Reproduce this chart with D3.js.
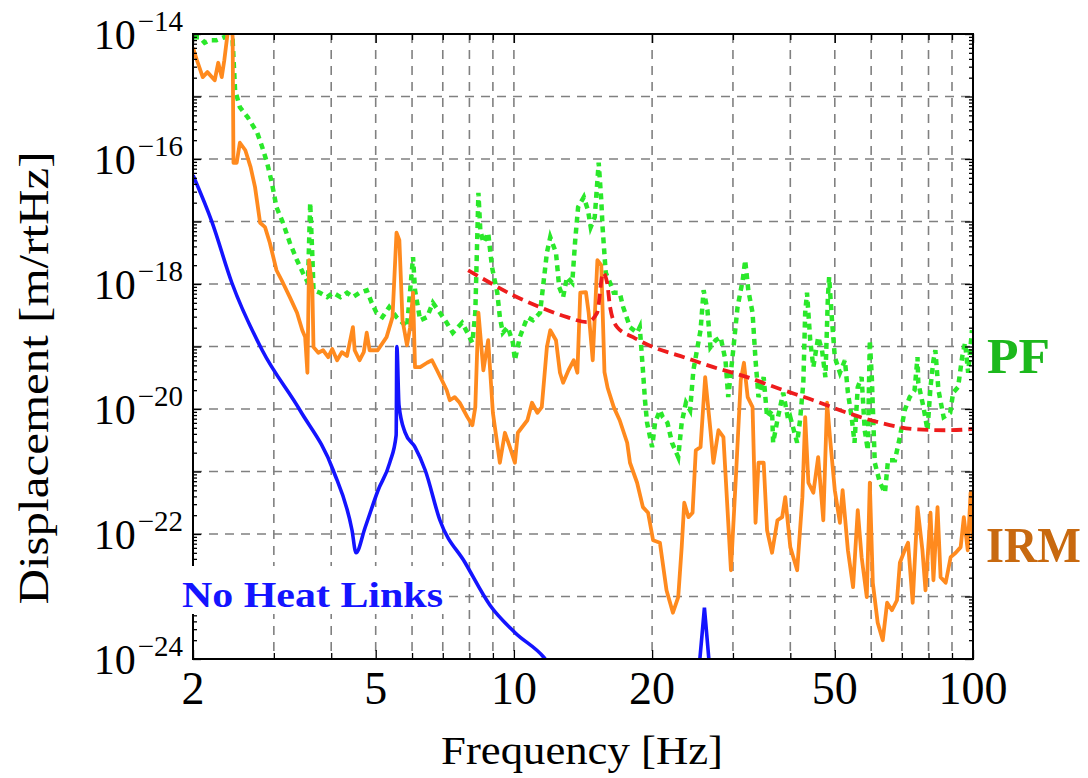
<!DOCTYPE html>
<html><head><meta charset="utf-8">
<script src="https://cdn.jsdelivr.net/npm/d3@7"></script>
<style>body{margin:0;background:#fff;} svg{display:block;}</style>
</head><body>
<svg id="c" width="1088" height="778"></svg>
<script>
// ---------- DATA (frequency in Hz, displacement as log10 of m/rtHz) ----------
const irmFreq = [
 2.00,2.04,2.10,2.15,2.23,2.27,2.31,2.34,2.38,2.42,
 2.44,2.45,2.49,2.53,2.60,2.67,2.73,2.80,2.87,2.94,
 3.04,3.12,3.25,3.37,3.46,3.51,3.55,3.58,3.64,3.66,
 3.75,3.84,3.94,4.02,4.12,4.22,4.33,4.46,4.50,4.61,
 4.71,4.78,4.85,5.05,5.28,5.44,5.55,5.63,5.72,5.85,
 5.94,6.03,6.09,6.25,6.47,6.63,6.80,6.97,7.14,7.25,
 7.43,7.62,7.92,8.12,8.24,8.37,8.58,8.79,9.00,9.32,
 9.56,9.80,10.05,10.2,10.7,10.95,11.25,11.5,11.8,12.0,
 12.35,12.6,12.8,13.15,13.5,13.75,13.95,14.35,14.55,14.85,
 15.2,15.5,15.75,16.0,16.5,17.0,17.65,17.9,18.55,19.1,
 19.6,20.1,20.8,21.5,22.2,22.8,23.2,23.5,24.0,24.5,
 24.9,25.5,26.1,26.8,27.2,27.9,28.6,29.7,30.5,31.2,
 31.7,32.3,33.1,33.6,34.1,35.0,35.6,36.5,37.5,38.4,
 39.0,40.0,41.4,42.5,43.1,43.8,44.9,46.0,47.2,48.1,
 48.8,50.0,51.3,52.0,53.4,54.8,56.1,57.2,58.7,59.6,
 60.5,62.0,63.6,65.0,66.6,68.3,69.3,71.0,72.2,73.9,
 75.7,77.6,78.8,80.8,82.0,83.7,85.0,87.2,89.4,91.7,
 94.0,95.5,97.4,98.8,100];
const irmLog = [
 -14.22,-14.42,-14.69,-14.61,-14.74,-14.46,-14.69,-14.42,-13.98,-13.78,
 -14.05,-16.06,-16.06,-15.74,-15.86,-16.13,-16.45,-17.02,-17.09,-17.34,
 -17.78,-17.94,-18.21,-18.46,-18.74,-18.85,-19.42,-17.62,-18.10,-19.01,
 -19.10,-19.06,-19.17,-19.04,-19.22,-19.09,-19.15,-18.69,-19.06,-19.22,
 -19.09,-18.78,-19.06,-19.06,-18.85,-18.53,-17.18,-17.30,-18.58,-18.98,
 -18.70,-18.14,-19.33,-19.33,-19.26,-19.22,-19.38,-19.54,-19.70,-19.86,
 -19.81,-19.90,-20.13,-20.26,-19.97,-18.46,-19.38,-18.90,-20.06,-20.86,
 -20.38,-20.61,-20.86,-20.38,-20.18,-19.90,-20.06,-19.97,-19.01,-18.74,
 -18.90,-19.42,-19.58,-19.38,-19.22,-19.42,-18.14,-18.13,-18.46,-19.22,
 -17.62,-17.70,-19.41,-19.66,-19.97,-20.18,-20.54,-20.86,-21.18,-21.57,
 -21.66,-22.10,-22.14,-22.90,-23.26,-23.01,-22.21,-21.50,-21.73,-21.66,
 -20.66,-20.61,-19.49,-20.34,-20.86,-20.34,-20.45,-22.58,-20.98,-19.54,
 -19.26,-19.81,-19.97,-21.82,-20.86,-20.86,-21.94,-22.30,-21.78,-21.73,
 -21.41,-22.21,-22.58,-21.41,-20.13,-21.18,-21.34,-20.77,-21.78,-19.90,
 -20.45,-21.30,-21.82,-21.30,-22.26,-22.85,-21.62,-22.37,-23.01,-21.18,
 -22.78,-23.42,-23.70,-23.10,-23.22,-23.06,-22.46,-22.26,-22.14,-23.10,
 -21.57,-22.26,-22.90,-21.66,-22.74,-21.57,-22.69,-22.78,-22.37,-22.30,
 -22.21,-21.73,-22.26,-21.34,-22.10];

const pfFreq = [
 2.00,2.07,2.12,2.17,2.25,2.34,2.44,2.47,2.53,2.63,
 2.76,2.83,2.90,2.97,3.04,3.14,3.25,3.37,3.47,3.56,
 3.60,3.64,3.66,3.78,3.92,4.04,4.19,4.33,4.46,4.61,
 4.78,4.90,5.02,5.17,5.35,5.55,5.72,5.85,6.03,6.09,
 6.25,6.47,6.66,6.90,7.14,7.36,7.71,7.92,8.12,8.24,
 8.37,8.45,8.58,8.79,8.96,9.20,9.32,9.46,9.70,9.95,
 10.05,10.3,10.7,11.0,11.4,11.6,11.8,12.0,12.35,12.55,
 12.8,13.05,13.4,13.6,13.8,14.2,14.5,14.7,15.0,15.3,
 15.5,15.6,15.85,16.2,16.5,17.0,17.3,17.9,18.55,18.8,
 19.1,19.3,19.5,20.0,20.3,20.8,21.1,21.6,22.1,22.8,
 23.2,23.7,24.2,24.6,25.5,25.9,26.4,26.8,27.5,28.2,
 28.9,29.3,30.0,30.7,31.5,31.9,32.4,33.1,33.6,34.1,
 35.0,35.6,36.5,36.7,37.6,38.6,39.6,40.0,41.4,42.0,
 42.7,43.1,43.5,44.2,44.9,46.0,46.9,47.7,48.3,48.6,
 49.3,50.0,51.3,52.6,53.4,54.4,55.2,56.1,57.2,58.1,
 59.0,59.6,60.2,61.1,62.7,64.3,65.3,67.6,69.3,71.0,
 72.8,74.6,75.7,76.0,78.0,79.6,80.8,82.0,82.8,84.1,
 86.3,89.2,90.5,92.8,94.7,96.1,97.6,99.5];
const pfLog = [
 -14.05,-14.05,-14.14,-14.10,-14.10,-14.05,-14.10,-14.90,-15.17,-15.33,
 -15.58,-15.81,-16.06,-16.38,-16.77,-17.02,-17.34,-17.62,-17.82,-17.98,
 -16.70,-17.57,-18.10,-18.14,-18.21,-18.14,-18.21,-18.14,-18.21,-18.14,
 -18.10,-18.30,-18.46,-18.53,-18.37,-18.53,-18.62,-18.69,-17.57,-18.10,
 -18.58,-18.53,-18.30,-18.46,-18.62,-18.78,-18.62,-18.78,-18.94,-18.46,
 -16.54,-17.14,-17.34,-17.18,-17.73,-18.14,-18.53,-18.78,-18.69,-18.94,
 -19.22,-18.85,-18.53,-18.58,-18.46,-17.98,-17.50,-17.25,-17.50,-18.05,
 -18.21,-17.89,-17.98,-17.30,-16.77,-16.61,-16.82,-17.09,-16.93,-16.06,
 -16.66,-17.09,-17.82,-17.98,-18.14,-18.14,-18.37,-18.69,-18.78,-18.69,
 -19.38,-19.86,-20.22,-20.61,-20.22,-20.02,-20.13,-20.22,-20.54,-20.77,
 -20.22,-19.90,-20.02,-19.38,-18.74,-18.10,-18.42,-19.01,-18.90,-18.85,
 -19.22,-19.81,-19.10,-18.37,-17.94,-17.62,-18.10,-18.46,-19.22,-19.81,
 -19.49,-20.13,-20.02,-20.54,-20.13,-19.74,-20.18,-20.13,-20.54,-20.18,
 -19.58,-18.46,-18.14,-18.90,-19.33,-18.85,-19.06,-19.49,-18.21,-17.89,
 -18.58,-19.17,-19.42,-19.22,-19.74,-20.13,-20.54,-19.65,-19.49,-20.34,
 -20.66,-18.90,-19.49,-20.86,-21.18,-21.34,-20.82,-20.82,-20.45,-20.02,
 -19.81,-19.70,-19.17,-19.58,-19.97,-20.34,-19.65,-19.22,-19.06,-19.70,
 -20.13,-20.06,-19.74,-19.65,-19.17,-18.94,-19.42,-18.74];

const limitFreq = [7.95,8.87,9.96,11.40,13.06,14.44,15.18,15.64,15.96,16.20,16.78,18.18,20.1,23.0,27.2,32.2,38.0,44.9,53.2,62.8,74.1,87.9,100];
const limitLog  = [-17.78,-17.98,-18.18,-18.37,-18.53,-18.61,-18.46,-17.82,-17.98,-18.37,-18.69,-18.85,-19.01,-19.15,-19.33,-19.49,-19.68,-19.86,-20.06,-20.22,-20.32,-20.34,-20.32];

const noHLFreq = [2.00,2.20,2.43,2.83,3.42,4.04,4.44,4.53,4.74,5.06,5.37,5.54,5.56,5.62,5.79,6.09,6.41,6.90,7.83,8.87,10.06,11.64,12.6];
const noHLLog  = [-16.26,-17.01,-17.98,-19.06,-20.02,-20.98,-21.94,-22.30,-21.90,-21.30,-20.85,-20.42,-19.00,-19.94,-20.37,-20.61,-20.98,-21.78,-22.46,-23.14,-23.58,-23.98,-24.34];
const noHLSpikeFreq = [25.2,25.7,26.0,26.3,26.8];
const noHLSpikeLog  = [-24.3,-23.6,-23.18,-23.6,-24.3];

const xTickLabels = [2,5,10,20,50,100];
const xGridValues = [3,4,5,6,7,8,9,10,20,30,40,50,60,70,80,90];
const yTickExponents = [-14,-16,-18,-20,-22,-24];
const yGridExponents = [-15,-16,-17,-18,-19,-20,-21,-22,-23];

// ---------- DRAWING ----------
const svg = d3.select("#c");
const X0 = 193, X1 = 973, Y0 = 34, Y1 = 659;
const x = d3.scaleLog().domain([2,100]).range([X0,X1]);
const y = d3.scaleLog().domain([1e-24,1e-14]).range([Y1,Y0]);
const serif = "'Liberation Serif','Times New Roman',serif";

svg.append("defs").append("clipPath").attr("id","clip")
  .append("rect").attr("x",X0).attr("y",Y0).attr("width",X1-X0).attr("height",Y1-Y0);

// grid
const grid = svg.append("g").attr("stroke","#808080").attr("stroke-width",1.6).attr("stroke-dasharray","9,7");
grid.selectAll("line.v").data(xGridValues).join("line").attr("class","v")
  .attr("x1",d=>x(d)).attr("x2",d=>x(d)).attr("y1",Y0).attr("y2",Y1);
grid.selectAll("line.h").data(yGridExponents).join("line").attr("class","h")
  .attr("x1",X0).attr("x2",X1).attr("y1",d=>y(Math.pow(10,d))).attr("y2",d=>y(Math.pow(10,d)));

// curves
const plot = svg.append("g").attr("clip-path","url(#clip)");
const lineLin = d3.line().x(d=>x(d[0])).y(d=>y(Math.pow(10,d[1])));
const lineSmooth = d3.line().curve(d3.curveMonotoneX).x(d=>x(d[0])).y(d=>y(Math.pow(10,d[1])));

plot.append("path").datum(d3.zip(pfFreq,pfLog)).attr("d",lineLin)
  .attr("fill","none").attr("stroke","#2ae82a").attr("stroke-width",4.5).attr("stroke-dasharray","6,5");
plot.append("path").datum(d3.zip(irmFreq,irmLog)).attr("d",lineLin)
  .attr("fill","none").attr("stroke","#ff8a1e").attr("stroke-width",3.8).attr("stroke-linejoin","round");
plot.append("path").datum(d3.zip(noHLFreq,noHLLog)).attr("d",lineSmooth)
  .attr("fill","none").attr("stroke","#1414ff").attr("stroke-width",3.6);
plot.append("path").datum(d3.zip(noHLSpikeFreq,noHLSpikeLog)).attr("d",lineLin)
  .attr("fill","none").attr("stroke","#1414ff").attr("stroke-width",3.6);
plot.append("path").datum(d3.zip(limitFreq,limitLog)).attr("d",lineSmooth)
  .attr("fill","none").attr("stroke","#ee1c1c").attr("stroke-width",3.8).attr("stroke-dasharray","11,6");

// axes ticks
const majorY = d3.range(-24,-13).map(e=>Math.pow(10,e));
const minorY = [];
for (let e=-24; e<-14; e++) for (let k=2;k<=9;k++) minorY.push(k*Math.pow(10,e));
function yAxis(gen, tx, vals, len){
  svg.append("g").attr("transform",`translate(${tx},0)`)
    .call(gen(y).tickValues(vals).tickSize(-len).tickFormat("").tickSizeOuter(0))
    .call(g=>g.select(".domain").remove())
    .selectAll("line").attr("stroke","#000").attr("stroke-width",1.3);
}
yAxis(d3.axisLeft, X0, majorY, 8);
yAxis(d3.axisLeft, X0, minorY, 4);
yAxis(d3.axisRight, X1, majorY, 8);
yAxis(d3.axisRight, X1, minorY, 4);
const xMinor = xGridValues.filter(v=>!xTickLabels.includes(v));
function xAxis(gen, ty, vals, len){
  svg.append("g").attr("transform",`translate(0,${ty})`)
    .call(gen(x).tickValues(vals).tickSize(-len).tickFormat("").tickSizeOuter(0))
    .call(g=>g.select(".domain").remove())
    .selectAll("line").attr("stroke","#000").attr("stroke-width",1.3);
}
xAxis(d3.axisBottom, Y1, xTickLabels, 9);
xAxis(d3.axisBottom, Y1, xMinor, 6);
xAxis(d3.axisTop, Y0, xTickLabels, 9);
xAxis(d3.axisTop, Y0, xMinor, 6);

// frame
svg.append("rect").attr("x",X0).attr("y",Y0).attr("width",X1-X0).attr("height",Y1-Y0)
  .attr("fill","none").attr("stroke","#000").attr("stroke-width",2);

// tick labels
const yl = svg.append("g").attr("font-family",serif).attr("fill","#000");
yTickExponents.forEach(e=>{
  const t = yl.append("text").attr("x",183).attr("y",y(Math.pow(10,e))+15)
    .attr("text-anchor","end").attr("font-size",42);
  t.append("tspan").text("10");
  t.append("tspan").attr("dy",-18).attr("dx",2).attr("font-size",29).text("\u2212"+Math.abs(e));
});
svg.append("g").attr("font-family",serif).attr("font-size",46).attr("text-anchor","middle")
  .selectAll("text").data(xTickLabels).join("text")
  .attr("x",d=>x(d)).attr("y",704).text(d=>d);

// axis titles
svg.append("text").attr("x",582).attr("y",764).attr("text-anchor","middle")
  .attr("font-family",serif).attr("font-size",40).attr("textLength",282).attr("lengthAdjust","spacingAndGlyphs")
  .text("Frequency [Hz]");
svg.append("text").attr("transform","translate(48,378) rotate(-90)").attr("text-anchor","middle")
  .attr("font-family",serif).attr("font-size",42).attr("textLength",453).attr("lengthAdjust","spacingAndGlyphs")
  .text("Displacement [m/rtHz]");

// labels
svg.append("rect").attr("x",178).attr("y",566).attr("width",270).attr("height",48).attr("fill","#fff");
svg.append("text").attr("x",182).attr("y",607).attr("font-family",serif).attr("font-weight","bold")
  .attr("font-size",36).attr("fill","#1414ff").attr("textLength",261).attr("lengthAdjust","spacingAndGlyphs")
  .text("No Heat Links");
svg.append("text").attr("x",987).attr("y",373).attr("font-family",serif).attr("font-weight","bold")
  .attr("font-size",50).attr("fill","#1cb81c").attr("textLength",63).attr("lengthAdjust","spacingAndGlyphs")
  .text("PF");
svg.append("text").attr("x",986).attr("y",562).attr("font-family",serif).attr("font-weight","bold")
  .attr("font-size",50).attr("fill","#c8690f").attr("textLength",95).attr("lengthAdjust","spacingAndGlyphs")
  .text("IRM");
</script>
</body></html>
